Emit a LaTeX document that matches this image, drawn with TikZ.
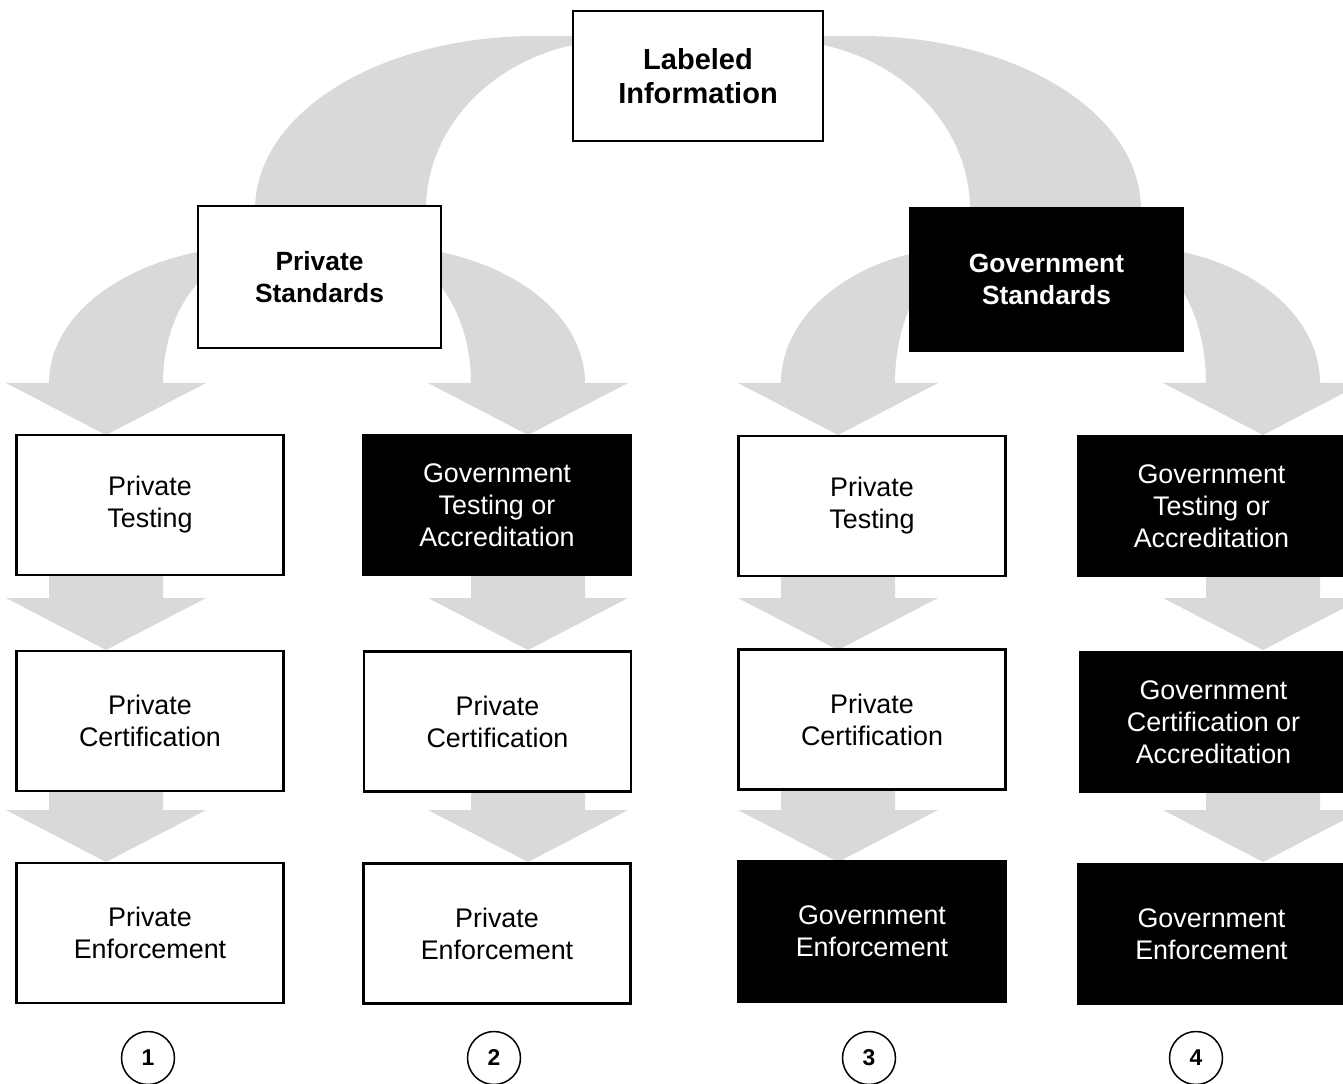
\documentclass[tikz,border=0pt]{standalone}
\usepackage{fontspec}
\setmainfont{Liberation Sans}
\definecolor{arrgray}{RGB}{217,217,217}

\begin{document}
\begin{tikzpicture}[x=0.02cm,y=-0.02cm,
		box/.style={draw=black,line width=1.2pt,fill=white,align=center,inner sep=0pt,
			minimum width=5.34cm,minimum height=2.8cm,font=\fontsize{15.3}{18.2}\selectfont},
		dark/.style={box,fill=black,text=white},
		num/.style={draw,circle,line width=0.85pt,minimum size=1.06cm,inner sep=0pt,font=\fontsize{13}{15}\selectfont\bfseries},
		arr/.style={fill=arrgray}]
		\useasboundingbox (0,0) rectangle (1343,1084);
		\clip (0,0) rectangle (1343,1084);
		
		% curved arrows from the top box
		\fill[arr] (255,210) .. controls (255,112) and (381,36) .. (536,36) -- (620,36) -- (620,40) .. controls (513,40) and (426,115) .. (426,210) -- cycle;
		\fill[arr] (1141,210) .. controls (1141,112) and (1015,36) .. (860,36) -- (776,36) -- (776,40) .. controls (883,40) and (970,115) .. (970,210) -- cycle;
		
		% curved arrows from the standards boxes
		\fill[arr] (49,383) .. controls (49,307) and (143,246) .. (260,246) -- (260,253) .. controls (206,253) and (163,311) .. (163,383) -- (206,383) -- (106,435) -- (6,383) -- cycle;
		\fill[arr] (585,383) .. controls (585,307) and (493,246) .. (380,246) -- (380,253) .. controls (430,253) and (471,311) .. (471,383) -- (428,383) -- (528,435) -- (628,383) -- cycle;
		\fill[arr] (781,383) .. controls (781,307) and (868,246) .. (975,246) -- (975,252) .. controls (931,252) and (895,311) .. (895,383) -- (938,383) -- (838,435) -- (738,383) -- cycle;
		\fill[arr] (1320,383) .. controls (1320,307) and (1233,246) .. (1125,246) -- (1125,252) .. controls (1170,252) and (1206,311) .. (1206,383) -- (1163,383) -- (1263,435) -- (1363,383) -- cycle;
		
		% straight arrows between the rows
		\foreach \cx in {106,528,838,1263}
		\foreach \ta/\tb/\tc in {570/598/650,786/810/862}
		\fill[arr] ({\cx-57},\ta) -- ({\cx-57},\tb) -- ({\cx-100},\tb) -- (\cx,\tc) -- ({\cx+100},\tb) -- ({\cx+57},\tb) -- ({\cx+57},\ta) -- cycle;
		
		\node[box,minimum width=5cm,minimum height=2.6cm,font=\fontsize{16.5}{19.3}\selectfont\bfseries] (lab) at (698,76) {Labeled\\Information};
		\node[box,minimum width=4.86cm,minimum height=2.84cm,font=\fontsize{15}{18}\selectfont\bfseries] (ps) at (319.5,277) {Private\\Standards};
		\node[dark,minimum width=5.46cm,minimum height=2.86cm,font=\fontsize{15}{18}\selectfont\bfseries] (gs) at (1046.5,279.5) {Government\\Standards};
		
		\node[box] (t1) at (150,505) {Private\\Testing};
		\node[dark] (t2) at (497,505) {Government\\Testing or\\Accreditation};
		\node[box] (t3) at (872,506) {Private\\Testing};
		\node[dark] (t4) at (1211.5,506) {Government\\Testing or\\Accreditation};
		
		\node[box] (c1) at (150,721) {Private\\Certification};
		\node[box] (c2) at (497.5,721.5) {Private\\Certification};
		\node[box] (c3) at (872,719.5) {Private\\Certification};
		\node[dark] (c4) at (1213.5,722) {Government\\Certification or\\Accreditation};
		
		\node[box] (e1) at (150,933) {Private\\Enforcement};
		\node[box] (e2) at (497,933.5) {Private\\Enforcement};
		\node[dark] (e3) at (872,931.5) {Government\\Enforcement};
		\node[dark] (e4) at (1211.5,934) {Government\\Enforcement};
		
		\node[num] (n1) at (148,1058) {1};
		\node[num] (n2) at (494,1058) {2};
		\node[num] (n3) at (869,1058) {3};
		\node[num] (n4) at (1196,1058) {4};
	\end{tikzpicture}
\end{document}
